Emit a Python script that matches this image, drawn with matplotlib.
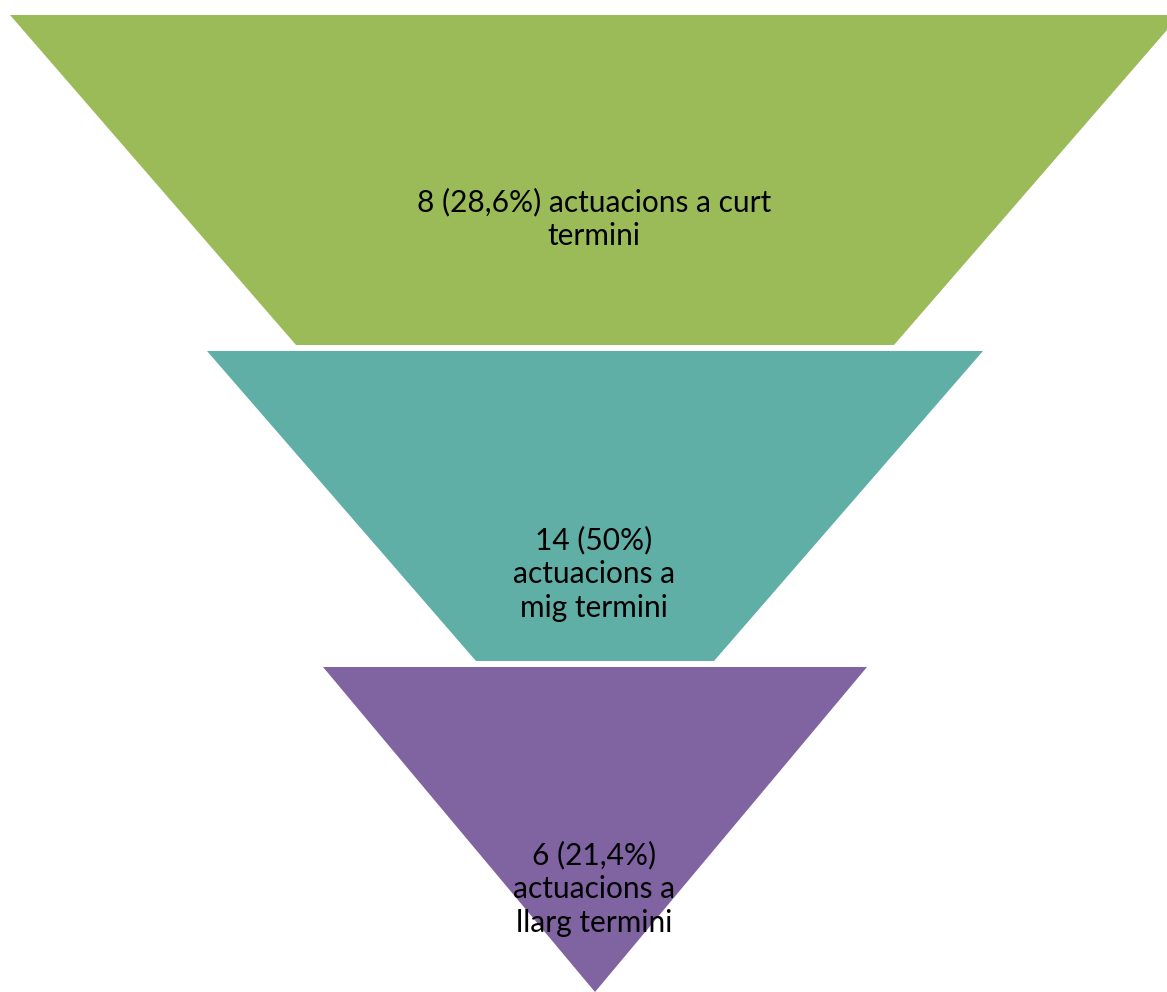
import matplotlib.pyplot as plt
from matplotlib.patches import Polygon

# levels of the inverted pyramid
labels = ['8 (28,6%) actuacions a curt\ntermini',
          '14 (50%)\nactuacions a\nmig termini',
          '6 (21,4%)\nactuacions a\nllarg termini']
colors = ['#9BBB59', '#5FAFA6', '#8064A2']

# geometry of each band (pixel units, y down)
tops = [15, 351, 667]
bottoms = [345, 661, 992]
top_half = [585, 388, 272]
bottom_half = [299, 119, 0]
text_y = [219, 574, 889]
cx = 595

fig = plt.figure(figsize=(11.67, 9.92), dpi=100)
ax = fig.add_axes([0, 0, 1, 1])
ax.set_xlim(0, 1167)
ax.set_ylim(992, 0)
ax.axis('off')

for i in range(len(labels)):
    pts = [(cx - top_half[i], tops[i]), (cx + top_half[i], tops[i]),
           (cx + bottom_half[i], bottoms[i]), (cx - bottom_half[i], bottoms[i])]
    ax.add_patch(Polygon(pts, closed=True, facecolor=colors[i], edgecolor='none'))
    ax.text(cx - 1, text_y[i], labels[i], ha='center', va='center', fontsize=21.5,
            family='Lato', color='black', linespacing=1.25)

fig.savefig('out.png', dpi=100)
